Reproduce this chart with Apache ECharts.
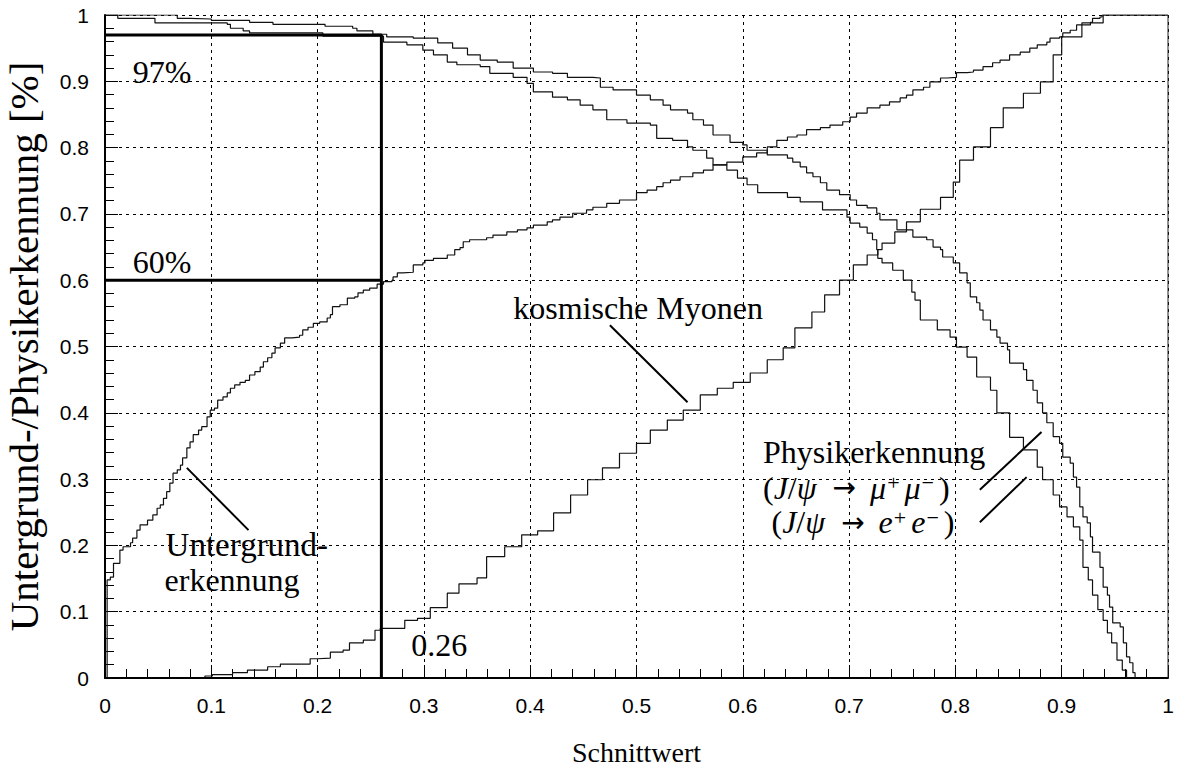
<!DOCTYPE html>
<html>
<head>
<meta charset="utf-8">
<title>Untergrund-/Physikerkennung</title>
<script src="https://cdn.jsdelivr.net/npm/echarts@6/dist/echarts.min.js"></script>
<style>
  html, body { margin: 0; padding: 0; background: #fff; }
  #chart { width: 1177px; height: 769px; }
</style>
</head>
<body>
<div id="chart"></div>
<script>
// Tick labels on both axes
const xTickLabels = ['0', '0.1', '0.2', '0.3', '0.4', '0.5', '0.6', '0.7', '0.8', '0.9', '1'];
const yTickLabels = ['0', '0.1', '0.2', '0.3', '0.4', '0.5', '0.6', '0.7', '0.8', '0.9', '1'];

// Background rejection (Untergrunderkennung) vs. cut value: [left bin edge, fraction]
const untergrund = [
  [0.002,0],[0.002,0.148],[0.005,0.152],[0.008,0.173],[0.014,0.193],[0.017,0.198],[0.024,0.204],
  [0.026,0.211],[0.030,0.223],[0.033,0.231],[0.040,0.238],[0.045,0.246],[0.049,0.256],[0.052,0.261],
  [0.055,0.271],[0.058,0.281],[0.061,0.294],[0.064,0.309],[0.068,0.314],[0.071,0.321],[0.073,0.332],
  [0.077,0.347],[0.080,0.356],[0.083,0.367],[0.088,0.374],[0.091,0.379],[0.096,0.394],[0.099,0.404],
  [0.103,0.407],[0.106,0.419],[0.111,0.424],[0.115,0.430],[0.118,0.437],[0.122,0.442],[0.127,0.446],
  [0.132,0.449],[0.136,0.457],[0.141,0.462],[0.146,0.469],[0.149,0.477],[0.153,0.483],[0.157,0.490],
  [0.160,0.498],[0.165,0.505],[0.169,0.513],[0.176,0.514],[0.183,0.517],[0.186,0.525],[0.191,0.529],
  [0.196,0.535],[0.202,0.537],[0.209,0.543],[0.212,0.548],[0.214,0.560],[0.221,0.563],[0.228,0.573],
  [0.235,0.575],[0.238,0.581],[0.243,0.585],[0.249,0.588],[0.256,0.594],[0.262,0.598],[0.270,0.600],
  [0.271,0.605],[0.275,0.611],[0.280,0.612],[0.290,0.623],[0.299,0.626],[0.301,0.630],[0.309,0.633],
  [0.322,0.638],[0.329,0.646],[0.334,0.649],[0.337,0.658],[0.343,0.661],[0.359,0.664],[0.365,0.668],
  [0.378,0.673],[0.388,0.676],[0.397,0.679],[0.403,0.683],[0.416,0.688],[0.421,0.691],[0.428,0.695],
  [0.440,0.701],[0.453,0.706],[0.459,0.710],[0.472,0.716],[0.484,0.721],[0.500,0.732],[0.510,0.736],
  [0.519,0.741],[0.525,0.747],[0.532,0.751],[0.541,0.756],[0.553,0.762],[0.563,0.766],[0.572,0.774],
  [0.585,0.778],[0.600,0.786],[0.613,0.792],[0.623,0.801],[0.632,0.811],[0.642,0.816],[0.651,0.819],
  [0.660,0.827],[0.673,0.830],[0.682,0.834],[0.694,0.839],[0.701,0.846],[0.707,0.852],[0.717,0.860],
  [0.729,0.864],[0.738,0.869],[0.748,0.875],[0.754,0.879],[0.760,0.887],[0.770,0.891],[0.776,0.899],
  [0.786,0.905],[0.792,0.906],[0.801,0.913],[0.811,0.914],[0.817,0.917],[0.826,0.922],[0.835,0.928],
  [0.842,0.932],[0.851,0.940],[0.861,0.944],[0.870,0.950],[0.877,0.955],[0.886,0.959],[0.889,0.965],
  [0.898,0.967],[0.901,0.973],[0.908,0.977],[0.914,0.985],[0.927,0.989],[0.929,0.995],[0.936,0.997],
  [0.938,1.0],[1.0,1.0]
];

// Cosmic muons (kosmische Myonen)
const kosmisch = [
  [0.094,0],[0.094,0.003],[0.101,0.005],[0.120,0.008],[0.134,0.012],[0.153,0.017],[0.165,0.021],
  [0.193,0.029],[0.200,0.030],[0.212,0.039],[0.224,0.042],[0.230,0.053],[0.243,0.057],[0.254,0.072],
  [0.259,0.075],[0.282,0.087],[0.294,0.090],[0.306,0.106],[0.322,0.128],[0.333,0.142],[0.350,0.151],
  [0.359,0.183],[0.376,0.198],[0.392,0.216],[0.407,0.222],[0.422,0.249],[0.438,0.276],[0.454,0.299],
  [0.468,0.317],[0.484,0.339],[0.500,0.354],[0.513,0.374],[0.529,0.389],[0.544,0.404],[0.560,0.427],
  [0.576,0.437],[0.591,0.446],[0.607,0.460],[0.623,0.480],[0.638,0.498],[0.649,0.528],[0.665,0.552],
  [0.677,0.578],[0.691,0.600],[0.704,0.623],[0.717,0.638],[0.727,0.646],[0.731,0.656],[0.743,0.673],
  [0.754,0.688],[0.767,0.707],[0.786,0.725],[0.798,0.748],[0.804,0.781],[0.817,0.801],[0.833,0.830],
  [0.845,0.860],[0.864,0.882],[0.880,0.899],[0.892,0.940],[0.900,0.967],[0.919,0.988],[0.939,1.0],
  [1.0,1.0]
];

// Physics acceptance, J/psi -> mu+ mu-
const physikMuMu = [
  [0,1.0],[0.068,0.995],[0.080,0.994],[0.100,0.992],[0.136,0.989],[0.158,0.986],[0.207,0.983],
  [0.233,0.980],[0.237,0.976],[0.252,0.971],[0.265,0.967],[0.290,0.965],[0.313,0.958],[0.327,0.950],
  [0.341,0.940],[0.353,0.932],[0.369,0.929],[0.384,0.920],[0.403,0.914],[0.421,0.912],[0.435,0.906],
  [0.459,0.905],[0.466,0.891],[0.478,0.887],[0.500,0.879],[0.513,0.872],[0.525,0.864],[0.532,0.857],
  [0.548,0.852],[0.553,0.842],[0.563,0.834],[0.572,0.819],[0.588,0.808],[0.600,0.804],[0.604,0.796],
  [0.623,0.789],[0.642,0.784],[0.647,0.778],[0.654,0.771],[0.660,0.762],[0.666,0.756],[0.673,0.747],
  [0.679,0.736],[0.691,0.729],[0.701,0.721],[0.707,0.713],[0.717,0.709],[0.726,0.701],[0.729,0.691],
  [0.745,0.676],[0.760,0.665],[0.773,0.661],[0.779,0.650],[0.786,0.646],[0.788,0.635],[0.798,0.626],
  [0.804,0.611],[0.811,0.596],[0.814,0.575],[0.820,0.566],[0.823,0.555],[0.826,0.540],[0.833,0.525],
  [0.839,0.514],[0.842,0.505],[0.849,0.495],[0.851,0.475],[0.864,0.465],[0.867,0.449],[0.873,0.434],
  [0.877,0.415],[0.882,0.400],[0.886,0.385],[0.892,0.364],[0.898,0.354],[0.901,0.333],[0.908,0.324],
  [0.911,0.303],[0.914,0.288],[0.917,0.258],[0.920,0.243],[0.924,0.234],[0.927,0.213],[0.929,0.190],
  [0.936,0.167],[0.939,0.137],[0.943,0.125],[0.945,0.107],[0.948,0.083],[0.955,0.077],[0.958,0.053],
  [0.961,0.032],[0.964,0.023],[0.967,0.008],[0.969,0.0]
];

// Physics acceptance, J/psi -> e+ e-
const physikEE = [
  [0,1.0],[0.012,0.995],[0.047,0.988],[0.115,0.986],[0.118,0.980],[0.130,0.976],[0.136,0.973],
  [0.205,0.968],[0.262,0.959],[0.284,0.955],[0.299,0.947],[0.309,0.940],[0.322,0.929],[0.331,0.925],
  [0.353,0.922],[0.362,0.912],[0.384,0.906],[0.397,0.897],[0.403,0.884],[0.421,0.876],[0.435,0.872],
  [0.447,0.864],[0.459,0.857],[0.472,0.842],[0.491,0.837],[0.513,0.834],[0.519,0.814],[0.534,0.811],
  [0.548,0.801],[0.553,0.796],[0.566,0.784],[0.572,0.774],[0.585,0.766],[0.595,0.754],[0.604,0.744],
  [0.614,0.732],[0.642,0.725],[0.654,0.718],[0.675,0.706],[0.698,0.695],[0.701,0.686],[0.710,0.680],
  [0.717,0.671],[0.722,0.661],[0.726,0.646],[0.727,0.633],[0.731,0.626],[0.741,0.615],[0.751,0.600],
  [0.759,0.582],[0.762,0.570],[0.767,0.540],[0.783,0.525],[0.795,0.514],[0.801,0.499],[0.811,0.484],
  [0.820,0.454],[0.833,0.434],[0.839,0.400],[0.851,0.363],[0.864,0.344],[0.877,0.318],[0.882,0.299],
  [0.892,0.276],[0.898,0.258],[0.905,0.243],[0.911,0.228],[0.917,0.208],[0.920,0.167],[0.925,0.148],
  [0.929,0.125],[0.934,0.103],[0.939,0.087],[0.943,0.068],[0.947,0.053],[0.952,0.027],[0.957,0.012],
  [0.961,0.0]
];

// Chosen cut and the resulting efficiencies
const cutValue = 0.26;
const physikEff = 0.97;
const untergrundEff = 0.60;

const serif = '"Liberation Serif", "DejaVu Serif", serif';
const sans = '"Liberation Sans", Arial, sans-serif';

function stepSeries(data) {
  return {
    type: 'line', data: data, step: 'end', showSymbol: false, symbol: 'none',
    lineStyle: { color: '#111', width: 1.2 }, animation: false, silent: true
  };
}

function thickLine(data) {
  return {
    type: 'line', data: data, showSymbol: false, symbol: 'none', clip: false,
    lineStyle: { color: '#000', width: 3 }, animation: false, silent: true
  };
}

const chart = echarts.init(document.getElementById('chart'), null, { renderer: 'svg' });

const option = {
  backgroundColor: '#fff',
  animation: false,
  grid: { left: 105, right: 9, top: 15, bottom: 91, outerBoundsMode: 'none', containLabel: false },
  xAxis: {
    type: 'value', min: 0, max: 1, interval: 0.1,
    name: 'Schnittwert', nameLocation: 'middle', nameGap: 60,
    nameTextStyle: { fontFamily: serif, fontSize: 28, color: '#000' },
    axisLine: { lineStyle: { color: '#000', width: 2 } },
    axisTick: { inside: true, length: 13, lineStyle: { color: '#000', width: 1 } },
    minorTick: { show: true, splitNumber: 5, length: 9, lineStyle: { color: '#000', width: 1 } },
    splitLine: { show: true, lineStyle: { color: '#000', width: 1, type: [3, 4] } },
    axisLabel: {
      fontFamily: sans, fontSize: 21, color: '#000', margin: 17,
      formatter: v => xTickLabels[Math.round(v * 10)]
    }
  },
  yAxis: {
    type: 'value', min: 0, max: 1, interval: 0.1,
    name: 'Untergrund-/Physikerkennung [%]', nameLocation: 'middle', nameGap: 61,
    nameTextStyle: { fontFamily: serif, fontSize: 41, color: '#000' },
    axisLine: { lineStyle: { color: '#000', width: 2 } },
    axisTick: { inside: true, length: 13, lineStyle: { color: '#000', width: 1 } },
    minorTick: { show: true, splitNumber: 5, length: 9, lineStyle: { color: '#000', width: 1 } },
    splitLine: { show: true, lineStyle: { color: '#000', width: 1, type: [3, 4] } },
    axisLabel: {
      fontFamily: sans, fontSize: 21, color: '#000', margin: 16,
      formatter: v => yTickLabels[Math.round(v * 10)]
    }
  },
  series: [
    stepSeries(untergrund),
    stepSeries(kosmisch),
    stepSeries(physikMuMu),
    stepSeries(physikEE),
    thickLine([[0, physikEff], [cutValue, physikEff], [cutValue, 0]]),
    thickLine([[0, untergrundEff], [cutValue, untergrundEff]]),
    {
      // right frame edge
      type: 'line', data: [[1, 0], [1, 1]], showSymbol: false, symbol: 'none',
      lineStyle: { color: '#222', width: 1 }, animation: false, silent: true
    }
  ]
};

chart.setOption(option);

// Annotations, placed in data coordinates
const px = p => chart.convertToPixel({ gridIndex: 0 }, p);

const fs = 32;
const lh = 32;
const richStyles = {
  t: { fontFamily: serif, fontSize: fs, fill: '#000', lineHeight: lh },
  a: { fontFamily: '"DejaVu Sans", sans-serif', fontSize: 28, fill: '#000', lineHeight: lh, padding: [0, 14, 0, 16] },
  i: { fontFamily: serif, fontSize: fs, fontStyle: 'italic', fill: '#000', lineHeight: lh },
  s: { fontFamily: serif, fontSize: 22, fill: '#000', verticalAlign: 'top', lineHeight: lh, padding: [0, 5, 0, 1] }
};

const textItems = [
  { at: [0.026, 0.914], text: Math.round(physikEff * 100) + '%' },
  { at: [0.026, 0.627], text: Math.round(untergrundEff * 100) + '%' },
  { at: [0.288, 0.050], text: String(cutValue) },
  { at: [0.384, 0.558], text: 'kosmische Myonen' },
  { at: [0.057, 0.201], text: 'Untergrund-', size: 33 },
  { at: [0.056, 0.148], text: 'erkennung' },
  { at: [0.619, 0.341], text: 'Physikerkennung' },
  { at: [0.619, 0.287], rich: '{t|(}{i|J}{t|/}{i|ψ}{a|→}{i|μ}{s|+}{i|μ}{s|−}{t|)}' },
  { at: [0.627, 0.235], rich: '{t|(}{i|J}{t|/}{i|ψ}{a|→}{i|e}{s|+}{i|e}{s|−}{t|)}' }
];

const pointers = [
  [[0.475, 0.532], [0.548, 0.416]],
  [[0.077, 0.317], [0.135, 0.223]],
  [[0.881, 0.371], [0.823, 0.284]],
  [[0.867, 0.303], [0.823, 0.235]]
];

const graphics = [];
textItems.forEach(item => {
  const p = px(item.at);
  const style = item.rich
    ? { text: item.rich, rich: richStyles, align: 'left', verticalAlign: 'middle' }
    : { text: item.text, fontFamily: serif, fontSize: item.size || fs, fill: '#000', align: 'left', verticalAlign: 'middle' };
  graphics.push({ type: 'text', x: p[0], y: p[1], silent: true, style: style });
});
pointers.forEach(seg => {
  const a = px(seg[0]), b = px(seg[1]);
  graphics.push({
    type: 'line', silent: true,
    shape: { x1: a[0], y1: a[1], x2: b[0], y2: b[1] },
    style: { stroke: '#000', lineWidth: 2 }
  });
});

chart.setOption({ graphic: graphics });
</script>
</body>
</html>
